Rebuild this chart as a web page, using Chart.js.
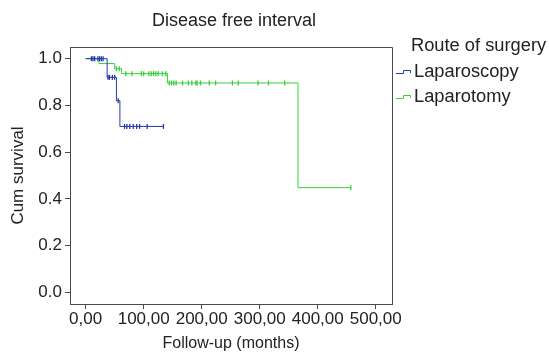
<!DOCTYPE html>
<html><head><meta charset="utf-8">
<script src="https://cdn.jsdelivr.net/npm/chart.js@4"></script>
<style>html,body{margin:0;padding:0;background:#fff}#wrap{width:549px;height:355px}</style>
</head><body><div id="wrap"><canvas id="c" width="549" height="355"></canvas></div>
<script>
const chartTitle = 'Disease free interval';
const legendTitle = 'Route of surgery';
const seriesNames = ['Laparoscopy', 'Laparotomy'];
const xAxisTitle = 'Follow-up (months)';
const yAxisTitle = 'Cum survival';
const xTickValues = [0, 100, 200, 300, 400, 500];
const yTickValues = [0, 0.2, 0.4, 0.6, 0.8, 1.0];

// Laparoscopy: event times and survival after each event
const lapEventTimes = [0, 37, 53, 59, 134];
const lapSurvival   = [1.0, 0.92, 0.82, 0.71, 0.71];
const lapCensored   = [10, 12.6, 15.5, 21, 24, 27, 30, 38.5, 41, 46, 50, 56, 67, 71, 76, 82, 88, 93, 106, 134];

// Laparotomy
const lotEventTimes = [0, 23, 50, 62, 141, 366, 457];
const lotSurvival   = [1.0, 0.979, 0.957, 0.936, 0.896, 0.448, 0.448];
const lotCensored   = [53, 58, 69, 80, 96, 100, 109, 113, 117, 121, 125, 132, 138, 144, 148, 152, 156, 167, 177, 183, 190, 192, 198, 213, 224, 253, 263, 297, 315, 343, 457];

const seriesColors = ['#2638a8', '#38d038'];
const FONT = '"Liberation Sans", Arial, Helvetica, sans-serif';
const TEXT = '#222222';
const AXIS = '#4a4a4a';

function curve(times, surv) { return times.map((t, i) => ({x: t, y: surv[i]})); }
function survAt(times, surv, t) {
  let s = surv[0];
  for (let i = 0; i < times.length; i++) if (times[i] <= t) s = surv[i];
  return s;
}
function censorPts(cens, times, surv) { return cens.map(t => ({x: t, y: survAt(times, surv, t)})); }

const framePlugin = {
  id: 'frameLegend',
  afterDraw(chart) {
    const {ctx, chartArea: a} = chart;
    ctx.save();
    ctx.strokeStyle = AXIS; ctx.lineWidth = 1;
    ctx.beginPath();
    ctx.moveTo(Math.round(a.left) + 0.5, Math.round(a.top) + 0.5);
    ctx.lineTo(Math.round(a.right) + 0.5, Math.round(a.top) + 0.5);
    ctx.lineTo(Math.round(a.right) + 0.5, Math.round(a.bottom) + 0.5);
    ctx.stroke();
    ctx.fillStyle = TEXT;
    ctx.textBaseline = 'middle';
    // chart title centred over the plot area
    ctx.font = '18px ' + FONT;
    ctx.textAlign = 'center';
    ctx.fillText(chartTitle, (a.left + a.right) / 2 + 3, 21);
    // legend
    ctx.textAlign = 'left';
    ctx.font = '18.3px ' + FONT;
    ctx.fillText(legendTitle, 411, 46);
    const ys = [72, 97];
    seriesNames.forEach((n, i) => {
      const y = ys[i];
      ctx.strokeStyle = seriesColors[i]; ctx.lineWidth = 1;
      ctx.beginPath();
      ctx.moveTo(396, y + 1.5); ctx.lineTo(403.5, y + 1.5); ctx.lineTo(403.5, y - 1.5);
      ctx.lineTo(410.5, y - 1.5); ctx.lineTo(410.5, y + 1);
      ctx.stroke();
      ctx.fillStyle = TEXT;
      ctx.fillText(n, 414, y);
    });
    ctx.restore();
  }
};

new Chart(document.getElementById('c'), {
  type: 'scatter',
  data: {
    datasets: [
      {label: seriesNames[0], data: curve(lapEventTimes, lapSurvival), showLine: true, stepped: 'before',
       borderColor: seriesColors[0], borderWidth: 1, pointRadius: 0, order: 1},
      {label: seriesNames[0] + ' censored', data: censorPts(lapCensored, lapEventTimes, lapSurvival), showLine: false,
       pointStyle: 'line', rotation: 90, pointRadius: 2.5, borderColor: seriesColors[0], borderWidth: 1.3, order: 1},
      {label: seriesNames[1], data: curve(lotEventTimes, lotSurvival), showLine: true, stepped: 'before',
       borderColor: seriesColors[1], borderWidth: 1, pointRadius: 0, order: 2},
      {label: seriesNames[1] + ' censored', data: censorPts(lotCensored, lotEventTimes, lotSurvival), showLine: false,
       pointStyle: 'line', rotation: 90, pointRadius: 2.5, borderColor: seriesColors[1], borderWidth: 1.3, order: 2}
    ]
  },
  options: {
    responsive: false, animation: false, devicePixelRatio: 1,
    layout: {padding: {top: 47, right: 157, bottom: 0, left: 0}},
    plugins: {legend: {display: false}, tooltip: {enabled: false}, title: {display: false}},
    scales: {
      x: {
        type: 'linear', min: -27, max: 528,
        afterBuildTicks: s => { s.ticks = xTickValues.map(v => ({value: v})); },
        afterFit: s => { s.height = 51; },
        grid: {display: true, drawOnChartArea: false, drawTicks: true, tickLength: 5, color: AXIS},
        border: {display: true, color: AXIS, width: 1},
        ticks: {color: TEXT, font: {family: FONT, size: 17}, padding: 0, maxRotation: 0,
                callback: v => v.toFixed(2).replace('.', ',')},
        title: {display: true, text: xAxisTitle, color: TEXT, font: {family: FONT, size: 16}, padding: {top: 0, bottom: 1.5}}
      },
      y: {
        type: 'linear', min: -0.05, max: 1.05,
        afterBuildTicks: s => { s.ticks = yTickValues.map(v => ({value: v})); },
        afterFit: s => { s.width = 70; },
        grid: {display: true, drawOnChartArea: false, drawTicks: true, tickLength: 5, color: AXIS},
        border: {display: true, color: AXIS, width: 1},
        ticks: {color: TEXT, font: {family: FONT, size: 17}, padding: 3,
                callback: v => v.toFixed(1)},
        title: {display: true, text: yAxisTitle, color: TEXT, font: {family: FONT, size: 17}, padding: {top: 8, bottom: 0}}
      }
    }
  },
  plugins: [framePlugin]
});
</script>
</body></html>
